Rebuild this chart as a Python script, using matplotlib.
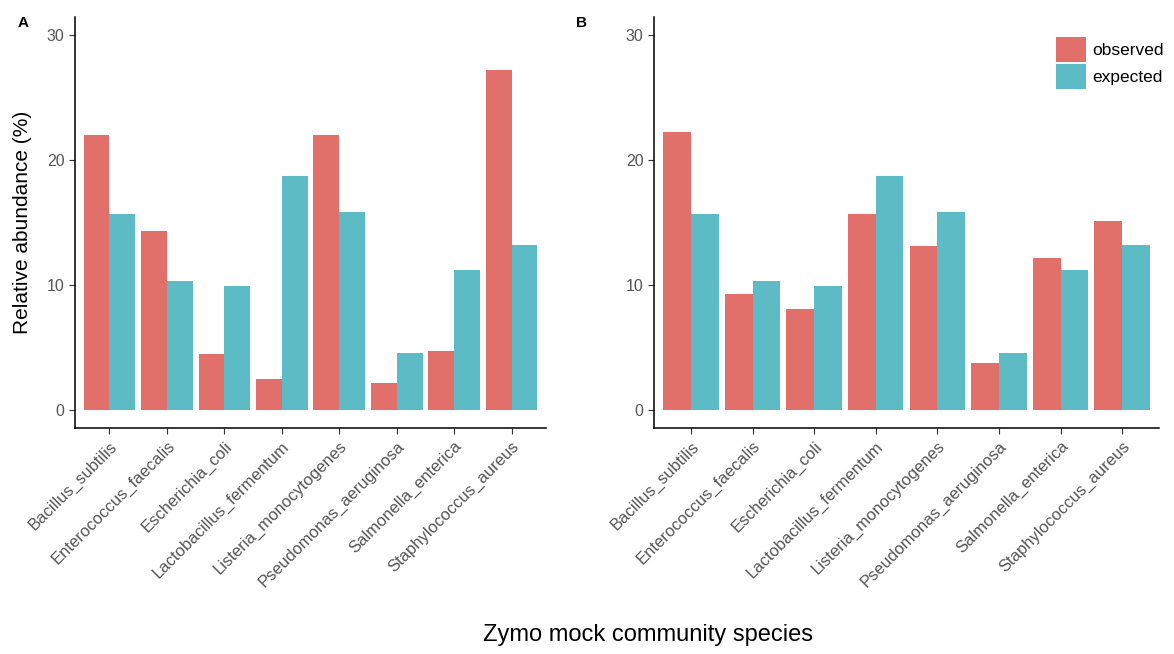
import matplotlib.pyplot as plt
import numpy as np

plt.rcParams['font.family'] = ['Liberation Sans', 'DejaVu Sans']

species = ['Bacillus_subtilis', 'Enterococcus_faecalis', 'Escherichia_coli',
           'Lactobacillus_fermentum', 'Listeria_monocytogenes',
           'Pseudomonas_aeruginosa', 'Salmonella_enterica', 'Staphylococcus_aureus']

expected = [15.65, 10.35, 9.95, 18.7, 15.8, 4.55, 11.2, 13.2]
observed_a = [22.0, 14.3, 4.5, 2.5, 22.0, 2.15, 4.75, 27.2]
observed_b = [22.25, 9.25, 8.05, 15.7, 13.15, 3.75, 12.15, 15.15]

col_obs = '#E2706A'
col_exp = '#5CBBC4'


def panel(ax, obs, exp):
    x = np.arange(len(species))
    w = 0.45
    ax.bar(x - w / 2, obs, width=w, color=col_obs, label='observed')
    ax.bar(x + w / 2, exp, width=w, color=col_exp, label='expected')
    ax.set_xlim(-0.6, len(species) - 0.4)
    ax.set_ylim(-1.45, 31.45)
    ax.set_yticks([0, 10, 20, 30])
    ax.set_xticks(x)
    ax.set_xticklabels(species, rotation=45, ha='right', rotation_mode='anchor',
                       fontsize=12, color='#555555')
    ax.tick_params(axis='y', labelsize=11.5, labelcolor='#555555')
    ax.tick_params(length=4, width=0.8, color='#333333')
    for s in ['top', 'right']:
        ax.spines[s].set_visible(False)
    for s in ['left', 'bottom']:
        ax.spines[s].set_linewidth(1.1)


fig = plt.figure(figsize=(11.74, 6.54), dpi=100)
ax1 = fig.add_axes([0.0639, 0.3456, 0.4012, 0.6284])
ax2 = fig.add_axes([0.5571, 0.3456, 0.4302, 0.6284])

panel(ax1, observed_a, expected)
panel(ax2, observed_b, expected)

# panel tags
fig.text(18 / 1174, 1 - 16 / 654, 'A', fontsize=11, fontweight='bold', ha='left', va='top')
fig.text(576 / 1174, 1 - 16 / 654, 'B', fontsize=11, fontweight='bold', ha='left', va='top')

fig.text(0.019, 0.66, 'Relative abundance (%)', fontsize=15, rotation=90,
         ha='center', va='center')
fig.text(0.552, 0.029, 'Zymo mock community species', fontsize=17, ha='center', va='center')

handles, labels = ax2.get_legend_handles_labels()
fig.legend(handles, labels, loc='upper left', bbox_to_anchor=(1055.5 / 1174, 1 - 37 / 654),
           frameon=False, fontsize=12.5, handlelength=1.78, handleheight=1.85,
           labelspacing=0.12, handletextpad=0.35, borderpad=0, borderaxespad=0)

fig.savefig('out.png', dpi=100)
